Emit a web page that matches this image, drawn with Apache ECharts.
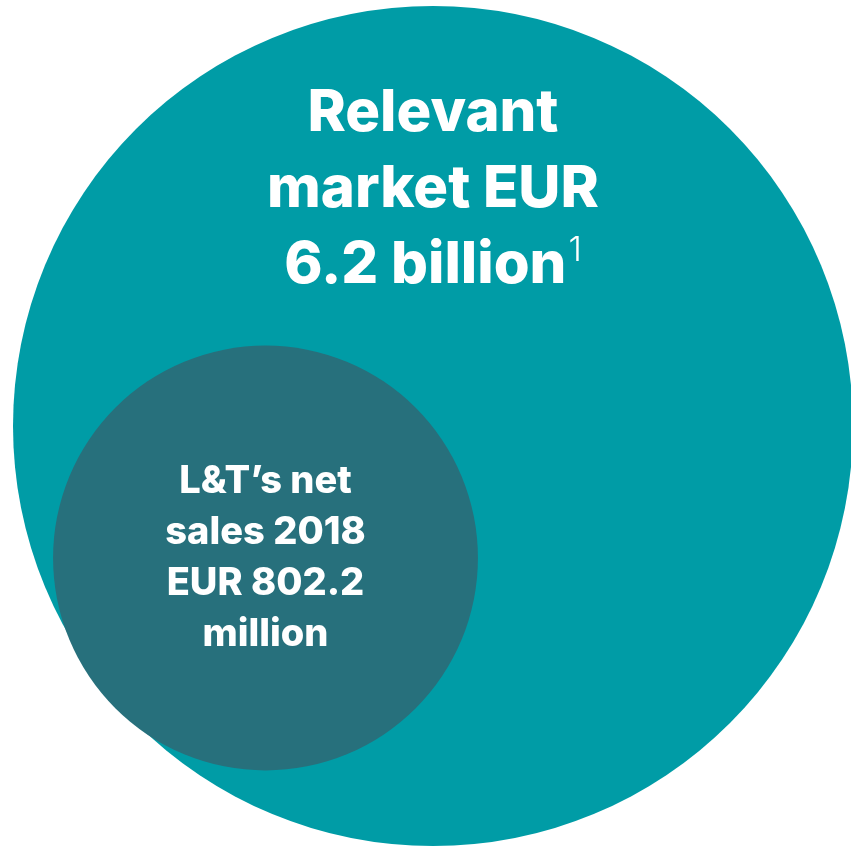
<!DOCTYPE html>
<html>
<head>
<meta charset="utf-8">
<script src="https://cdn.jsdelivr.net/npm/echarts@6/dist/echarts.min.js"></script>
<style>
html,body{margin:0;padding:0;background:#fff;}
#chart{width:851px;height:846px;}
</style>
</head>
<body>
<div id="chart"></div>
<script>
// Data
const names = ['Relevant market', 'L&T’s net sales 2018'];
const valuesEURm = [6200, 802.2];
const valueLabels = ['6.2 billion', '802.2 million'];

// Layout (pixel positions of bubble centres, not data)
const centers = [[433, 426], [265.5, 558]];
const maxDiameter = 840;
const colors = ['#009ca6', '#27707c'];

const maxVal = Math.max.apply(null, valuesEURm);
const chart = echarts.init(document.getElementById('chart'), null, {renderer: 'canvas'});

const fontFamily = 'Inter, "Noto Sans", sans-serif';

const data = valuesEURm.map(function (v, i) {
  return {
    name: names[i],
    value: [centers[i][0], centers[i][1], v],
    itemStyle: {color: colors[i], opacity: 1},
    label: i === 0 ? {
      show: true,
      position: 'inside',
      offset: [0, -236],
      formatter: '{t|Relevant}\n{t|market EUR}\n{t|' + valueLabels[0] + '}{sup|1}',
      rich: {
        t: {fontFamily: fontFamily, fontWeight: 800, fontSize: 58, lineHeight: 76, color: '#fff'},
        sup: {fontFamily: fontFamily, fontWeight: 300, fontSize: 34, lineHeight: 76, color: '#fff', verticalAlign: 'top', padding: [6, 0, 0, 2]}
      }
    } : {
      show: true,
      position: 'inside',
      offset: [0, 0],
      formatter: '{s|L&T’s net}\n{s|sales 2018}\n{s|EUR 802.2}\n{s|million}',
      rich: {
        s: {fontFamily: fontFamily, fontWeight: 800, fontSize: 38, lineHeight: 51, color: '#fff'}
      }
    }
  };
});

chart.setOption({
  animation: false,
  grid: {left: 0, right: 0, top: 0, bottom: 0},
  xAxis: {type: 'value', min: 0, max: 851, show: false},
  yAxis: {type: 'value', min: 0, max: 846, inverse: true, show: false},
  series: [{
    type: 'scatter',
    symbol: 'circle',
    symbolSize: function (val) { return maxDiameter * Math.cbrt(val[2] / maxVal); },
    itemStyle: {opacity: 1},
    data: data,
    emphasis: {disabled: true}
  }]
});
</script>
</body>
</html>
